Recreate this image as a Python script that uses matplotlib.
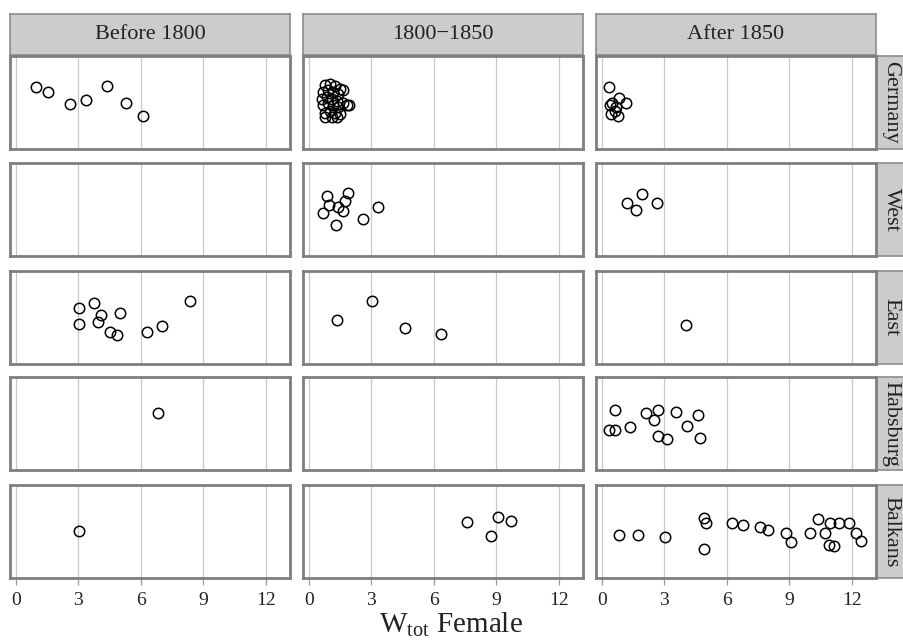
import matplotlib
matplotlib.use("Agg")
import matplotlib.pyplot as plt

plt.rcParams['font.family'] = ['Liberation Serif', 'DejaVu Serif']
plt.rcParams['mathtext.fontset'] = 'custom'
plt.rcParams['mathtext.rm'] = 'Liberation Serif'
plt.rcParams['mathtext.it'] = 'Liberation Serif:italic'

periods = ['Before 1800', '1800\u22121850', 'After 1850']
regions = ['Germany', 'West', 'East', 'Habsburg', 'Balkans']
ticks = [0, 3, 6, 9, 12]

# x = W_tot (female), y = vertical jitter position (0..1)
germany_pre_x = [0.96, 1.54, 2.6, 3.37, 4.38, 5.29, 6.1]
germany_pre_y = [0.67, 0.61, 0.48, 0.53, 0.68, 0.49, 0.35]
germany_mid_x = [0.77, 1.01, 1.25, 1.49, 1.65, 0.69, 0.93, 1.17, 1.41, 0.61, 0.85, 1.09, 1.33, 1.65,
                 1.81, 1.93, 0.69, 0.93, 1.17, 1.41, 0.77, 1.01, 1.25, 1.49, 0.77, 1.09, 1.33]
germany_mid_y = [0.69, 0.70, 0.68, 0.65, 0.63, 0.61, 0.63, 0.61, 0.59, 0.54, 0.56, 0.54, 0.52, 0.49,
                 0.47, 0.47, 0.47, 0.49, 0.47, 0.45, 0.39, 0.41, 0.39, 0.38, 0.34, 0.34, 0.34]
germany_post_x = [0.34, 0.82, 0.48, 1.15, 0.38, 0.67, 0.43, 0.77, 0.63]
germany_post_y = [0.67, 0.55, 0.50, 0.49, 0.47, 0.45, 0.38, 0.36, 0.41]

west_pre_x = []
west_pre_y = []
west_mid_x = [0.89, 1.86, 1.72, 0.97, 1.39, 0.69, 1.66, 1.30, 2.58, 3.32]
west_mid_y = [0.64, 0.68, 0.59, 0.55, 0.53, 0.46, 0.48, 0.33, 0.40, 0.53]
west_post_x = [1.19, 1.94, 1.64, 2.63]
west_post_y = [0.57, 0.67, 0.49, 0.57]

east_pre_x = [3.02, 3.74, 4.07, 4.99, 3.02, 3.96, 4.54, 4.88, 6.29, 7.04, 8.39]
east_pre_y = [0.60, 0.66, 0.53, 0.55, 0.43, 0.45, 0.34, 0.31, 0.34, 0.41, 0.675]
east_mid_x = [3.05, 1.33, 4.63, 6.34]
east_mid_y = [0.675, 0.47, 0.39, 0.32]
east_post_x = [4.02]
east_post_y = [0.42]

habsburg_pre_x = [6.81]
habsburg_pre_y = [0.61]
habsburg_mid_x = []
habsburg_mid_y = []
habsburg_post_x = [0.61, 0.36, 0.61, 1.36, 2.11, 2.71, 2.49, 3.55, 4.60, 4.10, 2.71, 3.13, 4.71]
habsburg_post_y = [0.64, 0.43, 0.43, 0.46, 0.61, 0.64, 0.54, 0.62, 0.59, 0.47, 0.37, 0.33, 0.34]

balkans_pre_x = [3.05]
balkans_pre_y = [0.51]
balkans_mid_x = [7.62, 9.09, 9.70, 8.73]
balkans_mid_y = [0.60, 0.66, 0.61, 0.45]
balkans_post_x = [0.82, 1.73, 3.02, 4.89, 4.99, 4.89, 6.24, 6.76, 7.58, 8.0, 8.87, 9.11, 9.98, 10.36,
                  10.7, 10.94, 10.89, 11.17, 11.37, 11.85, 12.23, 12.47]
balkans_post_y = [0.46, 0.46, 0.44, 0.64, 0.59, 0.31, 0.59, 0.57, 0.55, 0.52, 0.48, 0.39, 0.48, 0.63,
                  0.48, 0.59, 0.36, 0.34, 0.59, 0.59, 0.48, 0.40]

data = [
    [(germany_pre_x, germany_pre_y), (germany_mid_x, germany_mid_y), (germany_post_x, germany_post_y)],
    [(west_pre_x, west_pre_y), (west_mid_x, west_mid_y), (west_post_x, west_post_y)],
    [(east_pre_x, east_pre_y), (east_mid_x, east_mid_y), (east_post_x, east_post_y)],
    [(habsburg_pre_x, habsburg_pre_y), (habsburg_mid_x, habsburg_mid_y), (habsburg_post_x, habsburg_post_y)],
    [(balkans_pre_x, balkans_pre_y), (balkans_mid_x, balkans_mid_y), (balkans_post_x, balkans_post_y)],
]

W, H = 904, 640


def box(x0, y0, x1, y1):
    return [x0 / W, 1 - y1 / H, (x1 - x0) / W, (y1 - y0) / H]


fig = plt.figure(figsize=(W / 100, H / 100), dpi=100)

col_left = [10, 303, 596]
pw = 280
row_top = [56, 163, 271, 377, 485]
ph = 93
border = '#7f7f7f'
strip_fc = '#cccccc'


def strip(rect, text, rot=0):
    s = fig.add_axes(rect)
    s.set_facecolor(strip_fc)
    s.set_xticks([])
    s.set_yticks([])
    for sp in s.spines.values():
        sp.set_color('#8c8c8c')
        sp.set_linewidth(1.2)
    s.text(0.5, 0.5, text, ha='center', va='center', rotation=rot,
           fontsize=16, color='#222222', transform=s.transAxes)


for j, p in enumerate(periods):
    strip(box(col_left[j], 14, col_left[j] + pw, row_top[0] - 1), p)

for i, r in enumerate(regions):
    strip(box(col_left[2] + pw, row_top[i], W + 2, row_top[i] + ph), r, rot=-90)
    for j in range(3):
        ax = fig.add_axes(box(col_left[j], row_top[i], col_left[j] + pw, row_top[i] + ph))
        xs, ys = data[i][j]
        ax.plot(xs, ys, linestyle='none', marker='o', markersize=7.5,
                markerfacecolor='none', markeredgecolor='black', markeredgewidth=1.1)
        ax.set_xlim(-0.28, 13.17)
        ax.set_ylim(0, 1)
        ax.set_xticks(ticks)
        ax.set_yticks([])
        ax.grid(axis='x', color='#c8c8c8', linewidth=0.9)
        ax.set_axisbelow(True)
        for sp in ax.spines.values():
            sp.set_color(border)
            sp.set_linewidth(2)
        if i == len(regions) - 1:
            ax.tick_params(axis='x', length=5, width=0.9, color='#9a9a9a',
                           labelsize=14, pad=5, labelcolor='#222222')
        else:
            ax.tick_params(axis='x', length=0, labelbottom=False)

fig.text(451 / W, 1 - 625 / H, r'W$_{\mathrm{tot}}$ Female', ha='center', va='center',
         fontsize=21, color='#222222')

fig.savefig('out.png', dpi=100)
